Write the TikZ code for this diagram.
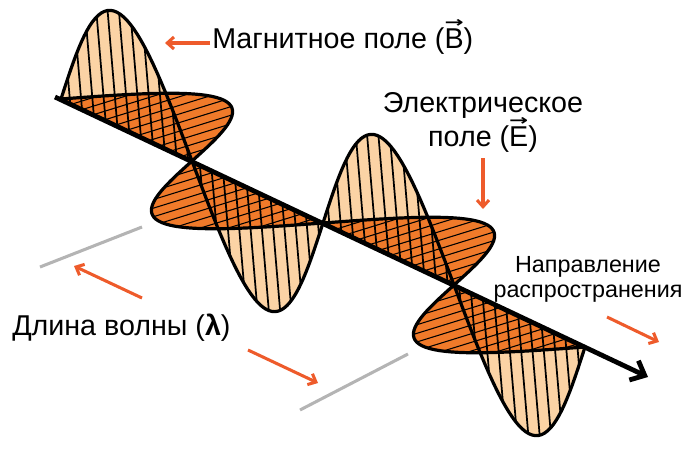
\documentclass[tikz,border=0pt]{standalone}
\usepackage{fontspec}
\setmainfont{Liberation Sans}
\newfontfamily\arrowfont{DejaVu Sans}
\usetikzlibrary{arrows.meta}
\definecolor{peach}{HTML}{FBD3A5}
\definecolor{efill}{HTML}{F07A2A}
\definecolor{arr}{HTML}{EE5B2B}
\definecolor{gr}{HTML}{B4B4B4}
\newcommand{\vecT}[1]{\setbox0\hbox{#1}\rlap{\raisebox{0.72em}{\resizebox{\wd0}{0.28em}{\arrowfont\bfseries →}}}#1}
\begin{document}
\begin{tikzpicture}[x=0.75pt,y=-0.75pt,
  outl/.style={line width=2.4pt,line join=round},
  hatchb/.style={line width=1.3pt},
  hatche/.style={line width=0.8pt},
  oarr/.style={draw=arr,line width=2.3pt,-{Straight Barb[length=5pt,width=9pt]}},
  gline/.style={draw=gr,line width=2.3pt},
  lbl/.style={font=\fontsize{21.5pt}{24pt}\selectfont,inner sep=0pt},
  lbls/.style={font=\fontsize{17.5pt}{22pt}\selectfont,inner sep=0pt}]
\useasboundingbox (0,0) rectangle (685,457);
% fills
\foreach \k in {0,1,2,3}{
  \fill[peach] plot[domain=\k:\k+1,samples=40] ({61+131*\x-10*sin(180*\x)},{99+62*\x-118*sin(180*\x)}) -- cycle;
}
\foreach \k in {0,1,2,3}{
  \fill[efill] plot[domain=\k:\k+1,samples=40] ({61+131*\x+97*sin(180*\x)},{99+62*\x-30*sin(180*\x)}) -- cycle;
}
% hatching
\foreach \t in {0.07,0.16,...,3.95}{
  \draw[hatchb] ({61+131*\t},{99+62*\t}) -- ({61+131*\t-10*sin(180*\t)},{99+62*\t-118*sin(180*\t)});
}
\foreach \t in {0.083,0.167,...,3.95}{
  \draw[hatche] ({61+131*\t},{99+62*\t}) -- ({61+131*\t+97*sin(180*\t)},{99+62*\t-30*sin(180*\t)});
}
% outlines
\draw[outl] plot[domain=0:4,samples=160] ({61+131*\x-10*sin(180*\x)},{99+62*\x-118*sin(180*\x)});
\draw[outl] plot[domain=0:4,samples=160] ({61+131*\x+97*sin(180*\x)},{99+62*\x-30*sin(180*\x)});
% axis
\coordinate (a0) at (55,97);
\coordinate (a1) at (648,377);
\draw[line width=3.6pt,-{Straight Barb[length=9pt,width=16pt]}] (a0) -- (a1);
% grey lines
\coordinate (g1) at (40,267); \coordinate (g2) at (142,227);
\coordinate (g3) at (300,410); \coordinate (g4) at (408,354);
\draw[gline] (g1) -- (g2);
\draw[gline] (g3) -- (g4);
% labels
\node[lbl,anchor=base west] (mag) at (212,48) {Магнитное поле (\vecT{B})};
\node[lbl,anchor=base] (el1) at (483,112) {Электрическое};
\node[lbl,anchor=base] (el2) at (483,146) {поле (\vecT{E})};
\node[lbls,anchor=base] (dir1) at (588,272) {Направление};
\node[lbls,anchor=base] (dir2) at (588,297) {распространения};
\node[lbl,anchor=base west] (lam) at (12,335) {Длина волны (\textbf{λ})};
% orange arrows
\coordinate (m1) at (210,43); \coordinate (m2) at (165,43);
\coordinate (l1) at (142,298); \coordinate (l2) at (74,266);
\coordinate (l3) at (248,350); \coordinate (l4) at (318,383);
\coordinate (e1) at (483,158); \coordinate (e2) at (483,209);
\coordinate (d1) at (607,317); \coordinate (d2) at (659,342);
\draw[oarr] (m1) -- (m2);
\draw[oarr] (l1) -- (l2);
\draw[oarr] (l3) -- (l4);
\draw[oarr] (e1) -- (e2);
\draw[oarr] (d1) -- (d2);
\end{tikzpicture}
\end{document}
